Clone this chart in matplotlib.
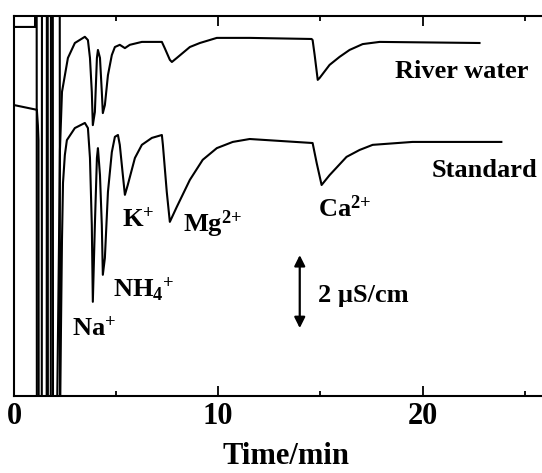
import matplotlib
matplotlib.use("Agg")
import matplotlib.pyplot as plt
from matplotlib.ticker import MultipleLocator

# chromatogram traces (time in min, conductivity in uS/cm, arbitrary offset)
# values beyond the axes limits are the off-scale injection spikes
river_t = [0.00, 1.03, 1.04, 1.11, 1.12, 1.60, 1.61, 1.90, 1.91, 2.10,
           2.20, 2.25, 2.35, 2.64, 2.98, 3.47, 3.62, 3.72, 3.81, 3.86,
           3.96, 4.06, 4.11, 4.21, 4.30, 4.35, 4.45, 4.60, 4.79, 4.94,
           5.18, 5.43, 5.67, 6.26, 7.24, 7.38, 7.63, 7.73, 7.97, 8.61,
           9.10, 9.93, 11.54, 14.57, 14.62, 14.72, 14.87, 14.96, 15.45, 15.94,
           16.43, 17.07, 17.90, 22.79]
river_g = [10.11, 10.11, 11.5, 11.5, -1.0, -1.0, 11.5, 11.5, -1.0, -1.0,
           4.00, 6.74, 8.33, 9.26, 9.67, 9.84, 9.75, 9.26, 8.33, 7.42,
           7.78, 9.26, 9.48, 9.26, 8.33, 7.75, 7.97, 8.79, 9.34, 9.56,
           9.62, 9.53, 9.62, 9.70, 9.70, 9.53, 9.21, 9.15, 9.26, 9.56,
           9.67, 9.81, 9.81, 9.78, 9.75, 9.34, 8.66, 8.71, 9.07, 9.29,
           9.48, 9.64, 9.70, 9.67]

std_t = [0.00, 1.12, 1.17, 1.20, 1.21, 1.36, 1.37, 1.65, 1.66, 1.80,
         1.81, 2.24, 2.25, 2.30, 2.35, 2.40, 2.49, 2.59, 2.98, 3.47,
         3.62, 3.72, 3.81, 3.86, 3.96, 4.06, 4.11, 4.21, 4.30, 4.35,
         4.45, 4.60, 4.79, 4.94, 5.09, 5.18, 5.33, 5.43, 5.57, 5.92,
         6.26, 6.75, 7.24, 7.29, 7.48, 7.63, 7.97, 8.61, 9.24, 9.93,
         10.71, 11.54, 14.62, 14.82, 15.06, 15.45, 16.28, 16.92, 17.56, 19.51,
         23.86]
std_g = [7.97, 7.84, 7.42, 7.00, -1.0, -1.0, 11.5, 11.5, -1.0, -1.0,
         11.5, 11.5, -1.0, 1.81, 4.27, 5.84, 6.60, 7.01, 7.34, 7.48,
         7.34, 6.52, 4.68, 2.58, 4.68, 6.52, 6.79, 6.05, 4.68, 3.32,
         3.78, 5.59, 6.68, 7.10, 7.15, 6.88, 6.05, 5.51, 5.78, 6.52,
         6.88, 7.07, 7.15, 6.88, 5.59, 4.77, 5.18, 5.92, 6.47, 6.79,
         6.96, 7.04, 6.93, 6.38, 5.78, 6.05, 6.55, 6.74, 6.88, 6.96,
         6.96]

# peak labels: (text, time, level)
peak_labels = [
    (r"$\mathbf{Na^{{+}}}$", 2.84, 1.67),
    (r"$\mathbf{NH_4{}^{{+}}}$", 4.84, 2.71),
    (r"$\mathbf{K^{{+}}}$", 5.28, 4.63),
    (r"$\mathbf{Mg^{2{+}}}$", 8.26, 4.49),
    (r"$\mathbf{Ca^{2{+}}}$", 14.87, 4.90),
]
trace_labels = [("River water", 18.63, 8.71), ("Standard", 20.44, 6.0)]
scale_bar = (13.99, 1.86, 2.0)  # time, bottom, length in uS/cm

plt.rcParams["font.family"] = "Liberation Serif"
plt.rcParams["font.weight"] = "bold"
plt.rcParams["mathtext.fontset"] = "custom"
plt.rcParams["mathtext.rm"] = "Liberation Serif:bold"
plt.rcParams["mathtext.bf"] = "Liberation Serif:bold"
plt.rcParams["mathtext.it"] = "Liberation Serif:bold"

fig = plt.figure(figsize=(5.42, 4.73), dpi=100)
ax = fig.add_axes([0.0258, 0.1628, 0.9742, 0.8034])

ax.plot(river_t, river_g, color="black", lw=1.5)
ax.plot(std_t, std_g, color="black", lw=1.5)

ax.set_xlim(0, 25.85)
ax.set_ylim(0, 10.41)

for txt, x, y in peak_labels:
    ax.text(x, y, txt, fontsize=19, ha="left", va="baseline")
for txt, x, y in trace_labels:
    ax.text(x, y, txt, fontsize=19, fontweight="bold", ha="left", va="baseline")

bx, by, blen = scale_bar
ax.annotate("", xy=(bx, by), xytext=(bx, by + blen),
            arrowprops=dict(arrowstyle="<|-|>", color="black", lw=1.6,
                            mutation_scale=16, shrinkA=0, shrinkB=0))
ax.text(bx + 0.88, by + 0.72, "2 \u00b5S/cm", fontsize=19, fontweight="bold",
        ha="left", va="baseline")

ax.spines["right"].set_visible(False)
for s in ["left", "top", "bottom"]:
    ax.spines[s].set_linewidth(1.5)

ax.set_yticks([])
ax.xaxis.set_major_locator(MultipleLocator(10))
ax.xaxis.set_minor_locator(MultipleLocator(5))
ax.tick_params(axis="x", which="both", direction="in", top=True, width=1.3)
ax.tick_params(axis="x", which="major", length=7.2, labelsize=22, pad=4)
ax.tick_params(axis="x", which="minor", length=3.6)
for lab in ax.get_xticklabels():
    lab.set_fontweight("bold")

ax.set_xlabel("Time/min", fontsize=22, fontweight="bold")
ax.xaxis.set_label_coords(0.515, -0.12)

fig.savefig("out.png", dpi=100)
